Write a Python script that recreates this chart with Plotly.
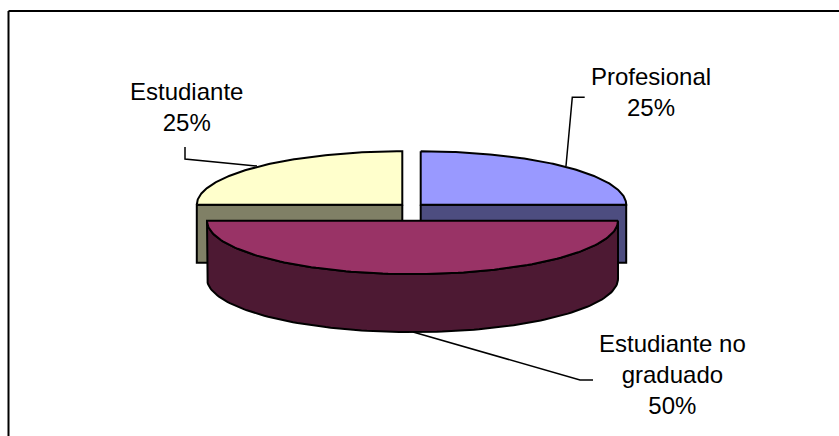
import numpy as np
import plotly.graph_objects as go

# ---- data ----
categories = ["Profesional", "Estudiante no graduado", "Estudiante"]
shares = [25, 50, 25]
label_text = ["Profesional", "Estudiante no<br>graduado", "Estudiante"]
top_colors = ["#9999FF", "#993366", "#FFFFCC"]
side_colors = ["#4D4D80", "#4D1933", "#808066"]

# ---- geometry of the projected pie (pixel canvas) ----
W, H = 839, 436
RX, RY, DEPTH = 205.5, 53.4, 58
slice_centers = [(420.7, 204.7), (412.5, 220.7), (402.3, 204.7)]
label_pos = [(651, 92), (672, 374), (186, 107)]
leaders = [
    [(566, 166), (572.3, 97.3), (584.7, 97.3)],
    [(413, 332), (580, 380), (593, 380)],
    [(257, 166), (185, 159), (185, 147)],
]
LINE = dict(color="black", width=2)

fig = go.Figure()


def edge(center, a0, a1, n=120):
    """Ellipse arc; angles are fractions of the circle, clockwise from the top."""
    t = np.linspace(a0, a1, n) * 2 * np.pi
    return center[0] + RX * np.sin(t), center[1] - RY * np.cos(t)


def poly(x, y, color, name):
    fig.add_trace(go.Scatter(
        x=np.append(x, x[0]), y=np.append(y, y[0]), mode="lines", fill="toself",
        fillcolor=color, line=LINE, name=name, hoverinfo="name", showlegend=False))


# slice spans from the values
total = sum(shares)
ends = np.cumsum(shares) / total
starts = np.concatenate([[0], ends[:-1]])

# rear slices first, the front slice last
order = sorted(range(len(shares)), key=lambda i: slice_centers[i][1])
for i in order:
    c, a0, a1 = slice_centers[i], starts[i], ends[i]
    name = categories[i]
    # wall: the part of the rim on the viewer's side, extruded downwards
    lo, hi = max(a0, 0.25), min(a1, 0.75)
    if hi > lo:
        x, y = edge(c, lo, hi)
        poly(np.concatenate([x, x[::-1]]), np.concatenate([y, y[::-1] + DEPTH]),
             side_colors[i], name)
    else:
        # rear slice: only its horizontal cut face shows
        a = a0 if a0 % 0.5 == 0.25 else a1
        x, y = edge(c, a, a, 2)
        poly(np.array([c[0], x[0], x[0], c[0]]),
             np.array([c[1], y[0], y[0] + DEPTH, c[1] + DEPTH]),
             side_colors[i], name)
    # top face
    x, y = edge(c, a0, a1)
    if a1 - a0 < 0.5:
        x, y = np.append(x, c[0]), np.append(y, c[1])
    poly(x, y, top_colors[i], name)

# leader lines
for pts in leaders:
    fig.add_trace(go.Scatter(x=[p[0] for p in pts], y=[p[1] for p in pts], mode="lines",
                             line=dict(color="black", width=1.5), hoverinfo="skip",
                             showlegend=False))

# data labels
for txt, s, (lx, ly) in zip(label_text, shares, label_pos):
    fig.add_annotation(x=lx, y=ly, text=f"{txt}<br>{s}%", showarrow=False,
                       xanchor="center", yanchor="middle", align="center",
                       font=dict(family="Liberation Sans, Arial, sans-serif", size=24, color="black"))

# chart-area border: only its top and left edges fall inside the picture
fig.add_shape(type="line", x0=8.5, x1=W, y0=11, y1=11, line=dict(color="black", width=2))
fig.add_shape(type="line", x0=8.5, x1=8.5, y0=11, y1=H, line=dict(color="black", width=2))

fig.update_layout(
    width=W, height=H, autosize=False, margin=dict(l=0, r=0, t=0, b=0),
    paper_bgcolor="white", plot_bgcolor="white", showlegend=False,
    xaxis=dict(range=[0, W], visible=False, fixedrange=True),
    yaxis=dict(range=[H, 0], visible=False, fixedrange=True),
)
fig.write_html("out.html", config={"displayModeBar": False},
               post_script="document.body.style.margin='0';document.body.style.overflow='hidden';")
